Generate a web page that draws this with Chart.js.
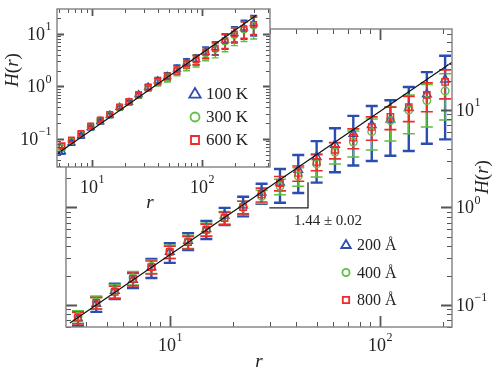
<!DOCTYPE html>
<html>
<head>
<meta charset="utf-8">
<script src="https://cdn.jsdelivr.net/npm/chart.js@4.4.0/dist/chart.umd.min.js"></script>
<style>
  html, body { margin: 0; padding: 0; background: #fff; }
  #wrap { position: relative; width: 498px; height: 376px; }
  canvas { position: absolute; left: 0; top: 0; }
</style>
</head>
<body>
<div id="wrap">
  <canvas id="main" width="498" height="376"></canvas>
  <canvas id="inset" width="285" height="215"></canvas>
</div>
<script>
// ---- main panel data (r, H(r)) ----
const mainR = [3.65, 4.46, 5.46, 6.67, 8.16, 9.98, 12.2, 14.9, 18.2, 22.3, 27.3, 33.4, 40.8, 49.9, 61.0, 74.6, 91.3, 112, 137, 167, 204];
const mainBlue = [0.073, 0.103, 0.14, 0.181, 0.243, 0.35, 0.456, 0.60, 0.825, 1.05, 1.42, 1.8, 2.43, 3.3, 4.4, 5.7, 7.0, 8.0, 10.5, 14.5, 20.5];
const mainBlueErr = [0.012, 0.018, 0.025, 0.032, 0.054, 0.08, 0.09, 0.127, 0.165, 0.24, 0.33, 0.68, 1.02, 1.5, 2.1, 3.0, 4.0, 4.6, 6.7, 10, 15.5];
const mainGreen = [0.076, 0.107, 0.14, 0.19, 0.25, 0.355, 0.45, 0.6, 0.79, 1.0, 1.3, 1.65, 2.1, 2.8, 3.7, 4.7, 6.0, 7.8, 10.0, 12.5, 15.7];
const mainGreenErr = [0.011, 0.016, 0.022, 0.03, 0.04, 0.055, 0.07, 0.09, 0.12, 0.16, 0.2, 0.3, 0.45, 0.75, 0.9, 1.4, 2.1, 3.0, 4.3, 5.8, 7.8];
const mainRed = [0.074, 0.105, 0.136, 0.185, 0.245, 0.35, 0.44, 0.59, 0.78, 1.01, 1.36, 1.78, 2.26, 2.93, 3.9, 5.2, 6.7, 8.5, 10.7, 14.3, 19.4];
const mainRedErr = [0.01, 0.014, 0.02, 0.028, 0.037, 0.05, 0.065, 0.085, 0.11, 0.15, 0.22, 0.3, 0.4, 0.55, 0.75, 1.2, 1.8, 2.2, 3.1, 4.7, 6.4];
const mainLabels = ['200 Å', '400 Å', '800 Å'];
const mainFitR = [3.34, 220];
const mainFitH = [0.0654, 30.9];
const slopeR = [29.7, 45.4];
const slopeH = [0.99, 1.82];
const slopeText = '1.44 ± 0.02';
const mainXTicks = [10, 100];
const mainYTicks = [0.1, 1, 10];

// ---- inset data ----
const insetR = [5.33, 6.51, 7.96, 9.73, 11.9, 14.5, 17.8, 21.7, 26.5, 32.4, 39.6, 48.4, 59.2, 72.4, 88.4, 108, 132, 162, 197, 241, 295];
const insetBlue = [0.058, 0.085, 0.115, 0.165, 0.215, 0.285, 0.40, 0.50, 0.70, 0.97, 1.28, 1.55, 2.15, 2.8, 3.3, 4.5, 5.5, 7.6, 10.2, 13.0, 15.8];
const insetBlueErr = [0.006, 0.008, 0.011, 0.015, 0.02, 0.027, 0.04, 0.05, 0.08, 0.12, 0.18, 0.25, 0.4, 0.55, 0.7, 1.1, 1.5, 2.4, 3.4, 5.0, 6.5];
const insetGreen = [0.068, 0.092, 0.124, 0.172, 0.225, 0.29, 0.40, 0.51, 0.68, 0.94, 1.22, 1.5, 2.05, 2.6, 3.15, 4.3, 5.2, 7.2, 9.6, 12.2, 14.5];
const insetGreenErr = [0.007, 0.009, 0.012, 0.017, 0.022, 0.03, 0.045, 0.055, 0.085, 0.13, 0.2, 0.28, 0.45, 0.6, 0.8, 1.2, 1.7, 2.6, 3.6, 5.0, 6.5];
const insetRed = [0.075, 0.096, 0.128, 0.177, 0.23, 0.295, 0.41, 0.52, 0.69, 0.96, 1.25, 1.55, 2.1, 2.7, 3.25, 4.45, 5.35, 7.5, 10.0, 12.6, 15.3];
const insetRedErr = [0.007, 0.009, 0.012, 0.016, 0.02, 0.028, 0.04, 0.05, 0.075, 0.11, 0.17, 0.24, 0.38, 0.5, 0.65, 1.0, 1.4, 2.2, 3.0, 4.3, 5.5];
const insetLabels = ['100 K', '300 K', '600 K'];
const insetFitR = [4.81, 310];
const insetFitH = [0.0518, 22.6];
const insetXTicks = [10, 100];
const insetYTicks = [0.1, 1, 10];

const BLUE = '#2c4db0', GREEN = '#5cbf40', RED = '#ec2b2b';
const SERIF = '"Liberation Serif", "DejaVu Serif", serif';

function pts(xs, ys) { return xs.map((x, i) => ({ x: x, y: ys[i] })); }

function logTicks(min, max) {
  const out = [];
  for (let k = Math.floor(Math.log10(min)); k <= Math.ceil(Math.log10(max)); k++) {
    for (let m = 1; m <= 9; m++) {
      const v = m * Math.pow(10, k);
      if (v >= min * 0.999 && v <= max * 1.001) out.push({ v: v, major: m === 1 });
    }
  }
  return out;
}

// "10" with a raised exponent; y is the vertical middle of the "10"
function drawPow(ctx, exp, x, y, align, size) {
  const eTxt = exp < 0 ? '\u2212' + (-exp) : String(exp);
  const small = Math.round(size * 0.68);
  ctx.font = size + 'px ' + SERIF;
  const wBase = ctx.measureText('10').width;
  ctx.font = small + 'px ' + SERIF;
  const wExp = ctx.measureText(eTxt).width;
  let x0;
  if (align === 'center') x0 = x - (wBase + wExp) / 2;
  else if (align === 'left') x0 = x;
  else x0 = x - wBase - wExp;
  ctx.textAlign = 'left';
  ctx.textBaseline = 'alphabetic';
  ctx.font = size + 'px ' + SERIF;
  ctx.fillText('10', x0, y + size * 0.33);
  ctx.font = small + 'px ' + SERIF;
  ctx.fillText(eTxt, x0 + wBase + 0.5, y - size * 0.22);
}

// mixed italic / upright text run
function drawRuns(ctx, runs, cx, cy, size, rot) {
  ctx.save();
  ctx.translate(cx, cy);
  ctx.rotate(rot || 0);
  let w = 0;
  runs.forEach(r => { ctx.font = (r[1] ? 'italic ' : '') + size + 'px ' + SERIF; w += ctx.measureText(r[0]).width; });
  let x = -w / 2;
  ctx.textAlign = 'left';
  ctx.textBaseline = 'middle';
  runs.forEach(r => {
    ctx.font = (r[1] ? 'italic ' : '') + size + 'px ' + SERIF;
    ctx.fillText(r[0], x, 0);
    x += ctx.measureText(r[0]).width;
  });
  ctx.restore();
}

function drawMarker(ctx, style, x, y, r) {
  ctx.beginPath();
  if (style === 'triangle') {
    ctx.moveTo(x, y - r);
    ctx.lineTo(x + r * 0.95, y + r * 0.6);
    ctx.lineTo(x - r * 0.95, y + r * 0.6);
    ctx.closePath();
  } else if (style === 'circle') {
    ctx.arc(x, y, r, 0, Math.PI * 2);
  } else {
    ctx.rect(x - r, y - r, 2 * r, 2 * r);
  }
  ctx.stroke();
}

const errorBars = {
  id: 'errorBars',
  beforeDatasetsDraw(chart) {
    const { ctx, chartArea: a, scales: { x, y } } = chart;
    ctx.save();
    ctx.beginPath();
    ctx.rect(a.left, a.top, a.right - a.left, a.bottom - a.top);
    ctx.clip();
    chart.data.datasets.forEach(ds => {
      if (!ds.err) return;
      ctx.strokeStyle = ds.barColor;
      ctx.lineWidth = ds.barWidth;
      ds.data.forEach((p, j) => {
        const e = ds.err[j];
        const px = x.getPixelForValue(p.x);
        const top = y.getPixelForValue(p.y + e);
        const bot = y.getPixelForValue(Math.max(p.y - e, y.min * 0.5));
        ctx.beginPath();
        ctx.moveTo(px, top); ctx.lineTo(px, bot);
        ctx.moveTo(px - ds.cap, top); ctx.lineTo(px + ds.cap, top);
        ctx.moveTo(px - ds.cap, bot); ctx.lineTo(px + ds.cap, bot);
        ctx.stroke();
      });
    });
    ctx.restore();
  }
};

const frame = {
  id: 'frame',
  beforeDraw(chart, args, o) {
    const { ctx, chartArea: a } = chart;
    ctx.save();
    ctx.fillStyle = '#fff';
    ctx.fillRect(a.left, a.top, a.right - a.left, a.bottom - a.top);
    ctx.restore();
  },
  afterDraw(chart, args, o) {
    const { ctx, chartArea: a, scales: { x, y } } = chart;
    ctx.save();
    ctx.strokeStyle = '#555';
    logTicks(x.min, x.max).forEach(t => {
      const px = Math.round(x.getPixelForValue(t.v)) + 0.5;
      const len = t.major ? o.major : o.minor;
      ctx.lineWidth = t.major ? 1.8 : 1;
      ctx.beginPath();
      ctx.moveTo(px, a.bottom); ctx.lineTo(px, a.bottom - len);
      ctx.moveTo(px, a.top); ctx.lineTo(px, a.top + len);
      ctx.stroke();
    });
    logTicks(y.min, y.max).forEach(t => {
      const py = Math.round(y.getPixelForValue(t.v)) + 0.5;
      const len = t.major ? o.major : o.minor;
      ctx.lineWidth = t.major ? 1.8 : 1;
      ctx.beginPath();
      ctx.moveTo(a.left, py); ctx.lineTo(a.left + len, py);
      ctx.moveTo(a.right, py); ctx.lineTo(a.right - len, py);
      ctx.stroke();
    });
    ctx.strokeStyle = '#808080';
    ctx.lineWidth = 1.4;
    ctx.strokeRect(a.left, a.top, a.right - a.left, a.bottom - a.top);

    ctx.fillStyle = '#222';
    o.xTicks.forEach(v => drawPow(ctx, Math.round(Math.log10(v)), x.getPixelForValue(v), a.bottom + o.xDy, 'center', o.font));
    o.yTicks.forEach(v => {
      const py = y.getPixelForValue(v);
      const e = Math.round(Math.log10(v));
      if (o.ySide === 'right') drawPow(ctx, e, a.right + o.yDx, py, 'left', o.font);
      else drawPow(ctx, e, a.left - o.yDx, py, 'right', o.font);
    });

    // axis titles
    drawRuns(ctx, [['r', true]], o.rPos[0], o.rPos[1], 19, 0);
    drawRuns(ctx, [['H', true], ['(', false], ['r', true], [')', false]], o.hPos[0], o.hPos[1], 19, -Math.PI / 2);

    // legend
    const L = o.legend;
    chart.data.datasets.forEach((ds, i) => {
      if (!ds.err) return;
      const ly = L.y + i * L.dy;
      ctx.strokeStyle = ds.borderColor;
      ctx.lineWidth = 1.8;
      drawMarker(ctx, ds.pointStyle, L.x, ly, L.size[i]);
      ctx.fillStyle = '#222';
      ctx.font = L.font + 'px ' + SERIF;
      ctx.textAlign = 'left';
      ctx.textBaseline = 'middle';
      ctx.fillText(ds.label, L.x + 11, ly + 1);
    });

    // slope bracket
    if (o.slope) {
      const x0 = x.getPixelForValue(slopeR[0]), x1 = x.getPixelForValue(slopeR[1]);
      const y0 = y.getPixelForValue(slopeH[0]), y1 = y.getPixelForValue(slopeH[1]);
      ctx.strokeStyle = '#222';
      ctx.lineWidth = 1.3;
      ctx.beginPath();
      ctx.moveTo(x0, y0); ctx.lineTo(x1, y0); ctx.lineTo(x1, y1);
      ctx.stroke();
      ctx.fillStyle = '#222';
      ctx.font = '15px ' + SERIF;
      ctx.textAlign = 'center';
      ctx.textBaseline = 'middle';
      ctx.fillText(slopeText, x1 + 20, y0 + 13);
    }
    ctx.restore();
  }
};

function series(label, xs, ys, err, style, color, r, bw, cap, order) {
  return {
    label: label, data: pts(xs, ys), err: err,
    pointStyle: style, pointRadius: r, borderColor: color, backgroundColor: 'rgba(0,0,0,0)',
    borderWidth: 1.4, barColor: color, barWidth: bw, cap: cap, order: order, showLine: false
  };
}

function fitLine(xs, ys) {
  return { type: 'line', data: pts(xs, ys), borderColor: '#111', borderWidth: 1.2, pointRadius: 0, order: 0 };
}

new Chart(document.getElementById('main'), {
  type: 'scatter',
  data: {
    datasets: [
      series(mainLabels[0], mainR, mainBlue, mainBlueErr, 'triangle', BLUE, 5, 2.4, 6, 3),
      series(mainLabels[1], mainR, mainGreen, mainGreenErr, 'circle', GREEN, 3.8, 1.5, 6, 2),
      series(mainLabels[2], mainR, mainRed, mainRedErr, 'rect', RED, 4.5, 1.6, 6, 1),
      fitLine(mainFitR, mainFitH)
    ]
  },
  options: {
    responsive: false, animation: false, devicePixelRatio: 1,
    layout: { padding: { left: 66, right: 46, top: 29, bottom: 49 } },
    scales: {
      x: { type: 'logarithmic', min: 3.2, max: 220, display: false },
      y: { type: 'logarithmic', min: 0.0594, max: 67.8, display: false }
    },
    plugins: {
      legend: { display: false }, tooltip: { enabled: false },
      frame: {
        major: 11, minor: 5, font: 18, xTicks: mainXTicks, yTicks: mainYTicks,
        xDy: 18, ySide: 'right', yDx: 4, rPos: [259, 362], hPos: [483, 177],
        legend: { x: 346, y: 245, dy: 27.5, size: [5, 3.6, 3.2], font: 16 },
        slope: true
      }
    }
  },
  plugins: [errorBars, frame]
});

new Chart(document.getElementById('inset'), {
  type: 'scatter',
  data: {
    datasets: [
      series(insetLabels[0], insetR, insetBlue, insetBlueErr, 'triangle', BLUE, 4, 2, 3.5, 3),
      series(insetLabels[1], insetR, insetGreen, insetGreenErr, 'circle', GREEN, 3.2, 1.4, 3.5, 2),
      series(insetLabels[2], insetR, insetRed, insetRedErr, 'rect', RED, 3.8, 1.5, 3.5, 1),
      fitLine(insetFitR, insetFitH)
    ]
  },
  options: {
    responsive: false, animation: false, devicePixelRatio: 1,
    layout: { padding: { left: 57, right: 15, top: 9, bottom: 48 } },
    scales: {
      x: { type: 'logarithmic', min: 4.81, max: 415, display: false },
      y: { type: 'logarithmic', min: 0.0293, max: 29.9, display: false }
    },
    plugins: {
      legend: { display: false }, tooltip: { enabled: false },
      frame: {
        major: 7, minor: 4, font: 18, xTicks: insetXTicks, yTicks: insetYTicks,
        xDy: 20, ySide: 'left', yDx: 6, rPos: [150, 203], hPos: [13, 70],
        legend: { x: 195, y: 94, dy: 23, size: [6, 4.5, 4], font: 17 },
        slope: false
      }
    }
  },
  plugins: [errorBars, frame]
});
</script>
</body>
</html>
